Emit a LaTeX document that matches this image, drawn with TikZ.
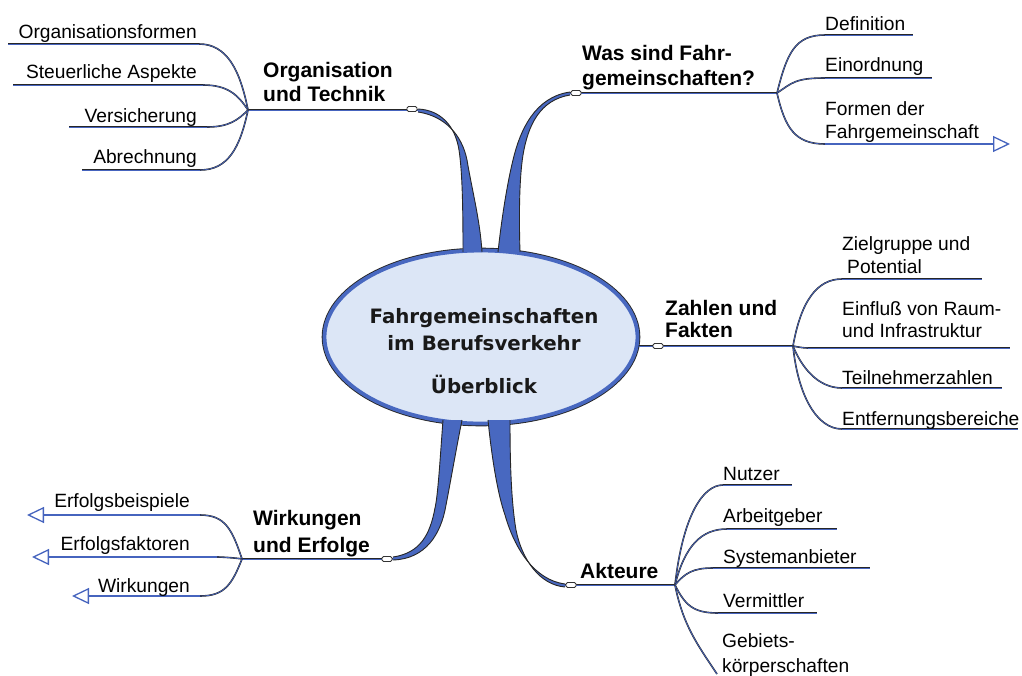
\documentclass[tikz,border=0pt]{standalone}
\usepackage{fontspec}
\setmainfont{Liberation Sans}
\newfontfamily\titlefont{DejaVu Sans}
\usetikzlibrary{shapes.geometric,arrows.meta}
\definecolor{lblue}{RGB}{70,100,190}
\definecolor{bfill}{RGB}{220,230,246}
\definecolor{bblue}{RGB}{72,104,192}
\newcommand{\mlL}[1]{\begin{tabular}[t]{@{}l@{}}#1\end{tabular}}
\newcommand{\mlC}[1]{\begin{tabular}[t]{@{}c@{}}#1\end{tabular}}
\begin{document}
\begin{tikzpicture}[x=1pt,y=-1pt,
  lab/.style={inner sep=0pt, font=\fontsize{19.2}{23}\selectfont},
  topic/.style={inner sep=0pt, font=\bfseries\fontsize{21}{24}\selectfont},
  ln/.style={draw=black!85, line width=2pt, postaction={draw=lblue, line width=0.9pt}},
  fan/.style={draw=black!85, line width=1.6pt, postaction={draw=lblue, line width=0.7pt}},
  arr/.style={draw=lblue, line width=1.5pt, -{Triangle[open, length=17pt, width=16pt, line width=1.3pt]}},
  handle/.style={draw=black!80, fill=white, rounded corners=1.5pt, minimum width=10pt, minimum height=5pt, inner sep=0pt, line width=0.8pt},
  branch/.style={fill=bblue},
  bedge/.style={draw=black!85, line width=0.9pt},
]
\useasboundingbox (0,0) rectangle (1022,675);

% central ellipse
\node[ellipse, minimum width=313pt, minimum height=173pt, inner sep=0pt,
      fill=bfill, draw=bblue, line width=3.8pt,
      preaction={draw=black!85, line width=5.6pt}] (center) at (481,337) {};

% tapered branches (upper left)
\fill[branch] (463,252) .. controls (463,200) and (462,170) .. (459,150) .. controls (455,125) and (440,110) .. (418,109)
  -- (418,112) .. controls (445,116) and (462,135) .. (467,160) .. controls (472,190) and (480,220) .. (482,252) -- cycle;
\draw[bedge] (463,252) .. controls (463,200) and (462,170) .. (459,150) .. controls (455,125) and (440,110) .. (418,109);
\draw[bedge] (418,112) .. controls (445,116) and (462,135) .. (467,160) .. controls (472,190) and (480,220) .. (482,252);
% upper right
\fill[branch] (498,252) .. controls (502,215) and (508,180) .. (513,160) .. controls (520,130) and (535,97) .. (570,92)
  -- (570,95) .. controls (540,100) and (528,125) .. (523,155) .. controls (519,180) and (519,220) .. (520,252) -- cycle;
\draw[bedge] (498,252) .. controls (502,215) and (508,180) .. (513,160) .. controls (520,130) and (535,97) .. (570,92);
\draw[bedge] (570,95) .. controls (540,100) and (528,125) .. (523,155) .. controls (519,180) and (519,220) .. (520,252);
% lower left
\fill[branch] (443,420) .. controls (440,460) and (438,495) .. (435,508) .. controls (430,535) and (420,553) .. (393,557)
  -- (393,560) .. controls (425,559) and (441,535) .. (446,505) .. controls (449,490) and (456,450) .. (462,420) -- cycle;
\draw[bedge] (443,420) .. controls (440,460) and (438,495) .. (435,508) .. controls (430,535) and (420,553) .. (393,557);
\draw[bedge] (393,560) .. controls (425,559) and (441,535) .. (446,505) .. controls (449,490) and (456,450) .. (462,420);
% lower right
\fill[branch] (488,420) .. controls (492,460) and (498,495) .. (505,515) .. controls (515,550) and (535,580) .. (565,584)
  -- (565,587) .. controls (540,585) and (522,560) .. (516,530) .. controls (511,500) and (510,460) .. (510,420) -- cycle;
\draw[bedge] (488,420) .. controls (492,460) and (498,495) .. (505,515) .. controls (515,550) and (535,580) .. (565,584);
\draw[bedge] (565,587) .. controls (540,585) and (522,560) .. (516,530) .. controls (511,500) and (510,460) .. (510,420);

% title
\node[inner sep=0pt, anchor=base, text=black!90, font=\titlefont\bfseries\fontsize{19.8}{27}\selectfont] (title) at (484,323)
  {\mlC{Fahrgemeinschaften\\im Berufsverkehr\\[16pt]Überblick}};

% junctions and coordinates
\coordinate (j1) at (248,110);
\coordinate (j2) at (777,93);
\coordinate (c3) at (639,346);
\coordinate (j3) at (793,346);
\coordinate (j4) at (242,559);
\coordinate (j5) at (675,585);

% topic lines
\draw[ln] (418,110) coordinate (h1e) -- (j1);
\draw[ln] (570,93) coordinate (h2w) -- (j2);
\draw[ln] (c3) -- (j3);
\draw[ln] (393,559) coordinate (h4e) -- (j4);
\draw[ln] (565,585) coordinate (h5w) -- (j5);

\node[handle] (h1) at (412,109) {};
\node[handle] (h2) at (576,93) {};
\node[handle] (h3) at (658,346) {};
\node[handle] (h4) at (387,559) {};
\node[handle] (h5) at (571,585) {};

% topic texts
\node[topic, anchor=base west] (t1) at (263,77) {\mlL{Organisation\\und Technik}};
\node[topic, anchor=base west, font=\bfseries\fontsize{21}{25}\selectfont] (t2) at (582,60) {\mlL{Was sind Fahr-\\gemeinschaften?}};
\node[topic, anchor=base west, font=\bfseries\fontsize{21}{22}\selectfont] (t3) at (665,315) {\mlL{Zahlen und\\Fakten}};
\node[topic, anchor=base west, font=\bfseries\fontsize{21}{27}\selectfont] (t4) at (253,525) {\mlL{Wirkungen\\und Erfolge}};
\node[topic, anchor=base west] (t5) at (580,578) {Akteure};

% Organisation und Technik children
\coordinate (a1r) at (199,44); \coordinate (a1l) at (8,44);
\coordinate (a2r) at (203,85); \coordinate (a2l) at (13,85);
\coordinate (a3r) at (207,127); \coordinate (a3l) at (69,127);
\coordinate (a4r) at (200,170); \coordinate (a4l) at (82,170);
\draw[fan] (j1) .. controls +(-8,-40) and +(28,0) .. (a1r);
\draw[fan] (j1) .. controls +(-10,-15) and +(25,0) .. (a2r);
\draw[fan] (j1) .. controls +(-10,10) and +(22,0) .. (a3r);
\draw[fan] (j1) .. controls +(-8,38) and +(28,0) .. (a4r);
\draw[ln] (a1r) -- (a1l);
\draw[ln] (a2r) -- (a2l);
\draw[ln] (a3r) -- (a3l);
\draw[ln] (a4r) -- (a4l);
\node[lab, anchor=base east] (a1) at (197,38) {Organisationsformen};
\node[lab, anchor=base east] (a2) at (197,78) {Steuerliche Aspekte};
\node[lab, anchor=base east] (a3) at (197,122) {Versicherung};
\node[lab, anchor=base east] (a4) at (197,163) {Abrechnung};

% Was sind Fahrgemeinschaften children
\coordinate (b1l) at (825,35); \coordinate (b1r) at (913,35);
\coordinate (b2l) at (825,78); \coordinate (b2r) at (932,78);
\coordinate (b3l) at (825,144); \coordinate (b3r) at (1010,144);
\draw[fan] (j2) .. controls +(10,-40) and +(-30,0) .. (b1l);
\draw[fan] (j2) .. controls +(15,-10) and +(-30,0) .. (b2l);
\draw[fan] (j2) .. controls +(8,35) and +(-30,0) .. (b3l);
\draw[ln] (b1l) -- (b1r);
\draw[ln] (b2l) -- (b2r);
\draw[arr] (b3l) -- (b3r);
\node[lab, anchor=base west] (b1) at (825,30) {Definition};
\node[lab, anchor=base west] (b2) at (825,71) {Einordnung};
\node[lab, anchor=base west] (b3) at (825,115) {\mlL{Formen der\\Fahrgemeinschaft}};

% Zahlen und Fakten children
\coordinate (c1l) at (842,279); \coordinate (c1r) at (982,279);
\coordinate (c2l) at (808,348); \coordinate (c2r) at (1010,348);
\coordinate (c3l) at (842,388); \coordinate (c3r) at (1002,388);
\coordinate (c4l) at (842,429); \coordinate (c4r) at (1018,429);
\draw[fan] (j3) .. controls +(8,-45) and +(-25,0) .. (c1l);
\draw[fan] (j3) .. controls +(5,1) and +(-5,0) .. (c2l);
\draw[fan] (j3) .. controls +(8,20) and +(-25,0) .. (c3l);
\draw[fan] (j3) .. controls +(5,50) and +(-25,0) .. (c4l);
\draw[ln] (c1l) -- (c1r);
\draw[ln] (c2l) -- (c2r);
\draw[ln] (c3l) -- (c3r);
\draw[ln] (c4l) -- (c4r);
\node[lab, anchor=base west] (c1) at (842,250) {\mlL{Zielgruppe und\\\hspace{5pt}Potential}};
\node[lab, anchor=base west, font=\fontsize{19.2}{22}\selectfont] (c2) at (842,315) {\mlL{Einfluß von Raum-\\und Infrastruktur}};
\node[lab, anchor=base west] (c3t) at (842,384) {Teilnehmerzahlen};
\node[lab, anchor=base west] (c4) at (842,425) {Entfernungsbereiche};

% Wirkungen und Erfolge children
\coordinate (d1r) at (200,515); \coordinate (d1l) at (27,515);
\coordinate (d2r) at (217,557); \coordinate (d2l) at (32,557);
\coordinate (d3r) at (200,596); \coordinate (d3l) at (72,596);
\draw[fan] (j4) .. controls +(-10,-30) and +(25,0) .. (d1r);
\draw[fan] (j4) .. controls +(-5,-1) and +(5,0) .. (d2r);
\draw[fan] (j4) .. controls +(-10,25) and +(25,0) .. (d3r);
\draw[arr] (d1r) -- (d1l);
\draw[arr] (d2r) -- (d2l);
\draw[arr] (d3r) -- (d3l);
\node[lab, anchor=base east] (d1) at (190,507) {Erfolgsbeispiele};
\node[lab, anchor=base east] (d2) at (190,550) {Erfolgsfaktoren};
\node[lab, anchor=base east] (d3) at (190,592) {Wirkungen};

% Akteure children
\coordinate (e1l) at (723,485); \coordinate (e1r) at (792,485);
\coordinate (e2l) at (727,529); \coordinate (e2r) at (837,529);
\coordinate (e3l) at (713,568); \coordinate (e3r) at (870,568);
\coordinate (e4l) at (718,613); \coordinate (e4r) at (817,613);
\coordinate (e5l) at (717,674);
\draw[fan] (j5) .. controls +(8,-70) and +(-20,0) .. (e1l);
\draw[fan] (j5) .. controls +(10,-40) and +(-25,0) .. (e2l);
\draw[fan] (j5) .. controls +(10,-12) and +(-20,0) .. (e3l);
\draw[fan] (j5) .. controls +(10,20) and +(-25,0) .. (e4l);
\draw[fan] (j5) .. controls +(8,40) and +(-20,-30) .. (e5l);
\draw[ln] (e1l) -- (e1r);
\draw[ln] (e2l) -- (e2r);
\draw[ln] (e3l) -- (e3r);
\draw[ln] (e4l) -- (e4r);
\node[lab, anchor=base west] (e1) at (723,480) {Nutzer};
\node[lab, anchor=base west] (e2) at (723,522) {Arbeitgeber};
\node[lab, anchor=base west] (e3) at (723,563) {Systemanbieter};
\node[lab, anchor=base west] (e4) at (723,607) {Vermittler};
\node[lab, anchor=base west, font=\fontsize{19.2}{25}\selectfont] (e5) at (722,647) {\mlL{Gebiets-\\körperschaften}};
\end{tikzpicture}
\end{document}
